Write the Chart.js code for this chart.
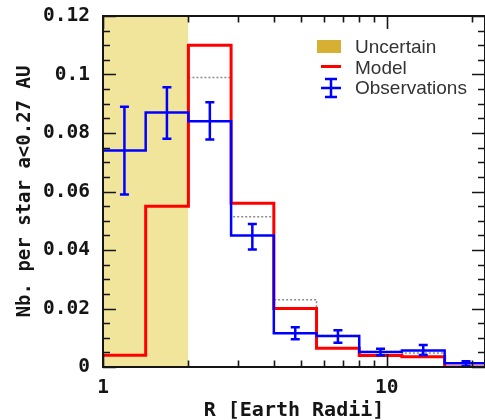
<!DOCTYPE html>
<html><head><meta charset="utf-8">
<script src="https://cdn.jsdelivr.net/npm/chart.js@4"></script>
<style>html,body{margin:0;padding:0;background:#fff;overflow:hidden}canvas{display:block}</style>
</head><body>
<canvas id="c" width="485" height="420"></canvas>
<script>
// ---- data ----
const binEdges = [1, 1.414, 2, 2.828, 4, 5.657, 8, 11.31, 16, 22.63];
const modelValues = [0.004, 0.055, 0.110, 0.056, 0.020, 0.0064, 0.0039, 0.0035, 0.0];
const obsValues = [0.074, 0.087, 0.084, 0.045, 0.0115, 0.0106, 0.0051, 0.0056, 0.0013];
const obsLow = [0.059, 0.078, 0.0778, 0.0402, 0.0095, 0.0083, 0.0040, 0.0041, 0.0003];
const obsHigh = [0.089, 0.0956, 0.0905, 0.0489, 0.0136, 0.0126, 0.0062, 0.0075, 0.0020];
const obsCenters = [1.19, 1.68, 2.38, 3.36, 4.76, 6.73, 9.51, 13.45, 19.03];
const dottedEdges = [2, 2.828, 4, 5.657, 8, 11.31, 16];
const dottedValues = [0.099, 0.0514, 0.023, 0.0108, 0.0053, 0.0048];
const uncertainRange = [1, 2];
const uncertainTop = 0.12;
const xTickValues = [1, 2, 3, 4, 5, 6, 7, 8, 9, 10, 20];
const xTickLabels = ['1', '', '', '', '', '', '', '', '', '10', ''];
const yTickValues = [0, 0.02, 0.04, 0.06, 0.08, 0.1, 0.12];
const yTickLabels = ['0', '0.02', '0.04', '0.06', '0.08', '0.1', '0.12'];
const legendLabels = ['Uncertain', 'Model', 'Observations'];

function steps(edges, vals) {
  return edges.map((e, i) => ({x: e, y: vals[Math.min(i, vals.length - 1)]}));
}

const MONO = '"DejaVu Sans Mono", monospace';
const INK = '#151515';

const framePlugin = {
  id: 'frame',
  afterDatasetsDraw(chart) {
    const {ctx, chartArea: a, scales: {x, y}} = chart;
    ctx.save();
    // error bars
    ctx.strokeStyle = '#0000ff';
    ctx.lineWidth = 2.5;
    for (let i = 0; i < obsCenters.length; i++) {
      const px = x.getPixelForValue(obsCenters[i]);
      const y1 = y.getPixelForValue(obsLow[i]);
      const y2 = y.getPixelForValue(obsHigh[i]);
      ctx.beginPath();
      ctx.moveTo(px, y1); ctx.lineTo(px, y2);
      ctx.moveTo(px - 4.5, y1); ctx.lineTo(px + 4.5, y1);
      ctx.moveTo(px - 4.5, y2); ctx.lineTo(px + 4.5, y2);
      ctx.stroke();
    }
    // frame
    ctx.strokeStyle = INK;
    ctx.lineWidth = 2;
    ctx.strokeRect(a.left, a.top, a.right - a.left, a.bottom - a.top);
    // x ticks (bottom & top)
    ctx.lineWidth = 1.6;
    ctx.beginPath();
    xTickValues.forEach(v => {
      const px = Math.round(x.getPixelForValue(v)) + 0.5;
      const len = (v === 1 || v === 10) ? 13 : 6.5;
      ctx.moveTo(px, a.bottom); ctx.lineTo(px, a.bottom - len);
      ctx.moveTo(px, a.top); ctx.lineTo(px, a.top + len);
    });
    // y ticks (left & right)
    for (let k = 0; k <= 24; k++) {
      const v = k * 0.005;
      const py = Math.round(y.getPixelForValue(v)) + 0.5;
      const len = (k % 4 === 0) ? 13 : 7;
      ctx.moveTo(a.left, py); ctx.lineTo(a.left + len, py);
      ctx.moveTo(a.right, py); ctx.lineTo(a.right - len, py);
    }
    ctx.stroke();
    ctx.restore();
  },
  afterDraw(chart) {
    const {ctx} = chart;
    ctx.save();
    // legend
    ctx.fillStyle = '#d6b032';
    ctx.fillRect(317, 40, 24, 13);
    ctx.strokeStyle = '#ff0000';
    ctx.lineWidth = 3;
    ctx.beginPath(); ctx.moveTo(321, 66.5); ctx.lineTo(341, 66.5); ctx.stroke();
    ctx.strokeStyle = '#0000ff';
    ctx.lineWidth = 2.5;
    ctx.beginPath();
    ctx.moveTo(331, 79); ctx.lineTo(331, 97);
    ctx.moveTo(325, 79); ctx.lineTo(337, 79);
    ctx.moveTo(325, 97); ctx.lineTo(337, 97);
    ctx.moveTo(321, 88); ctx.lineTo(341, 88);
    ctx.stroke();
    ctx.fillStyle = '#333';
    ctx.font = '19px "Liberation Sans", Arial, sans-serif';
    ctx.textBaseline = 'alphabetic';
    ctx.textAlign = 'left';
    ctx.fillText(legendLabels[0], 355, 53);
    ctx.fillText(legendLabels[1], 355, 73.5);
    ctx.fillText(legendLabels[2], 355, 94);
    ctx.restore();
  }
};

new Chart(document.getElementById('c'), {
  type: 'line',
  data: {
    datasets: [
      {
        label: 'Observations',
        data: steps(binEdges, obsValues),
        stepped: 'before',
        borderColor: '#0000ff', borderWidth: 2.5,
        pointRadius: 0, fill: false, order: 0
      },
      {
        label: 'Model',
        data: steps(binEdges, modelValues),
        stepped: 'before',
        borderColor: '#ff0000', borderWidth: 3,
        pointRadius: 0, fill: false, order: 1
      },
      {
        label: 'Dotted',
        data: steps(dottedEdges, dottedValues),
        stepped: 'before',
        borderColor: '#8a8a8a', borderWidth: 1.5, borderDash: [2, 2],
        pointRadius: 0, fill: false, order: 2
      },
      {
        label: 'Uncertain',
        data: uncertainRange.map(v => ({x: v, y: uncertainTop})),
        borderWidth: 0, borderColor: 'rgba(0,0,0,0)',
        backgroundColor: '#f1e59b',
        pointRadius: 0, fill: 'origin', order: 3
      }
    ]
  },
  options: {
    responsive: false,
    animation: false,
    devicePixelRatio: 1,
    layout: {padding: {top: 16, right: -5, bottom: 0, left: 0}},
    plugins: {legend: {display: false}, tooltip: {enabled: false}},
    scales: {
      x: {
        type: 'logarithmic',
        min: 1, max: 22.2,
        grid: {display: false, drawTicks: false},
        border: {display: false},
        afterBuildTicks: s => { s.ticks = xTickValues.map(v => ({value: v})); },
        afterFit: s => { s.height = 53; s.paddingLeft = 0; s.paddingRight = 0; },
        ticks: {
          autoSkip: false, maxRotation: 0, padding: 9,
          color: INK,
          font: {family: MONO, size: 19.5, weight: 'bold'},
          callback: (v, i) => xTickLabels[i]
        },
        title: {
          display: true, text: 'R [Earth Radii]', color: INK,
          font: {family: MONO, size: 20, weight: 'bold'},
          padding: {top: 0, bottom: -3}
        }
      },
      y: {
        min: 0, max: 0.12,
        grid: {display: false, drawTicks: false},
        border: {display: false},
        afterBuildTicks: s => { s.ticks = yTickValues.map(v => ({value: v})); },
        afterFit: s => { s.width = 103; s.paddingTop = 0; s.paddingBottom = 0; },
        ticks: {
          padding: 13, color: INK,
          font: {family: MONO, size: 19.5, weight: 'bold'},
          callback: (v, i) => yTickLabels[i]
        },
        title: {
          display: true, text: 'Nb. per star a<0.27 AU', color: INK,
          font: {family: MONO, size: 19, weight: 'bold'},
          padding: {top: 14, bottom: 0}
        }
      }
    }
  },
  plugins: [framePlugin]
});
</script>
</body></html>
